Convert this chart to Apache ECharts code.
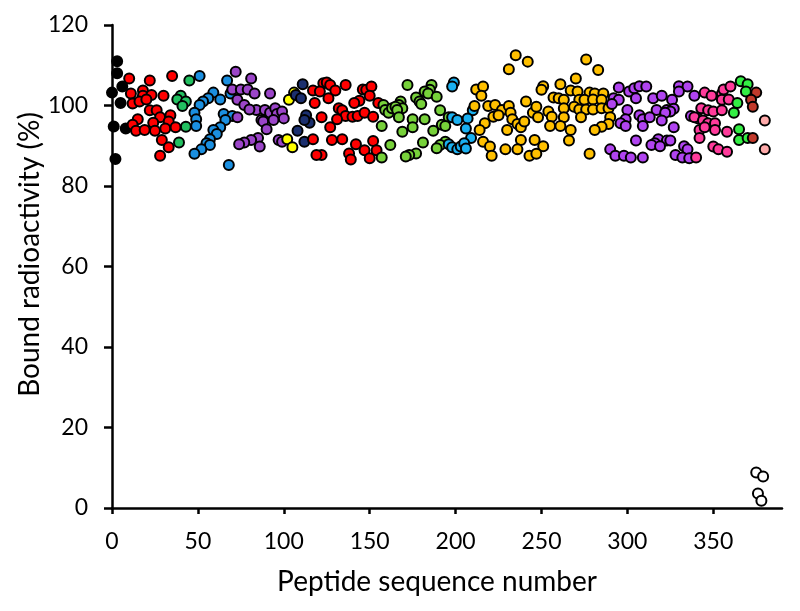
<!DOCTYPE html>
<html>
<head>
<meta charset="utf-8">
<script src="https://cdn.jsdelivr.net/npm/echarts@6/dist/echarts.min.js"></script>
<style>
  html, body { margin: 0; background: #fff; }
  #chart { width: 800px; height: 611px; }
</style>
</head>
<body>
<div id="chart"></div>
<script>
const xTicks = [0, 50, 100, 150, 200, 250, 300, 350]
const yTicks = [0, 20, 40, 60, 80, 100, 120]

// [peptide sequence number, bound radioactivity %]
const black = [[0, 103.2], [1, 94.8], [2, 86.7], [3, 111], [3, 108], [5, 100.6], [6, 104.7], [8, 94.3]]
const red1 = [[10, 106.7], [22, 106.2], [35, 107.3], [11, 103], [18, 103.7], [18, 102.4], [23, 102.6], [30, 102.4],
  [12, 100.5], [16, 101], [20, 101.5], [22, 98.8], [26, 98.8], [28, 97.1], [34, 97.6], [15, 96.6], [12, 95.2],
  [24, 95.7], [33, 96], [14, 93.7], [19, 93.9], [25, 93.7], [31, 94.3], [37, 94.6], [29, 91.4], [33, 89.6], [28, 87.5]]
const green1 = [[45, 106.2], [40, 102.4], [38, 101.5], [43, 101], [41, 99.9], [43, 94.7], [39, 90.8]]
const blue1 = [[51, 107.3], [67, 106.2], [59, 103.2], [56, 101.8], [53, 101], [63, 101.5], [51, 100.1], [69, 103],
  [48, 98.2], [65, 97.9], [70, 97.4], [49, 96.6], [66, 96.4], [49, 94.9], [63, 94.6], [59, 93.9], [61, 92.9],
  [57, 91.6], [55, 90.6], [57, 90.2], [52, 89.1], [48, 88], [68, 85.2]]
const purple1 = [[72, 108.4], [81, 106.7], [70, 104], [75, 104], [79, 104], [83, 103], [92, 103], [73, 101.4],
  [77, 100.1], [84, 98.9], [80, 99], [89, 98.9], [92, 98.2], [95, 99.3], [96, 97.9], [99, 98.5], [100, 96.8],
  [73, 97.1], [87, 96.4], [88, 96], [94, 96.4], [90, 94.1], [85, 91.9], [81, 91.4], [77, 90.8], [74, 90.4],
  [86, 89.8], [97, 91.4], [99, 91]]
const yellow = [[106, 103.2], [103, 101.4], [102, 91.6], [105, 89.6]]
const navy = [[111, 105.3], [107, 102.6], [110, 101.8], [113, 97.6], [115, 95.7], [112, 96.4], [108, 93.7], [112, 91]]
const red2 = [[123, 105.5], [125, 105.7], [127, 105.1], [117, 103.7], [121, 103.5], [130, 103.7], [126, 101.8],
  [136, 105.1], [118, 100.6], [146, 104], [148, 103.9], [151, 104.7], [144, 101.2], [141, 100.6], [150, 102.4],
  [132, 99.3], [134, 98.8], [136, 97.4], [140, 97.2], [143, 97.4], [147, 98.2], [152, 97.2], [122, 97.1],
  [131, 96.6], [127, 94.6], [117, 91.6], [128, 91.4], [134, 91.6], [142, 90.4], [122, 87.7], [119, 87.7],
  [138, 88.1], [139, 86.6], [147, 88.9], [150, 86.9], [152, 91.2], [155, 100.6], [154, 88.9]]
const lightGreen = [[172, 105.1], [186, 105.1], [185, 103.9], [182, 103.5], [184, 103], [189, 102.2], [177, 102],
  [179, 101], [180, 100.4], [168, 101], [167, 100.1], [169, 99.3], [158, 100.1], [159, 98.9], [161, 98.2],
  [163, 99.3], [165, 99.7], [166, 98.9], [167, 97.1], [175, 96.6], [182, 96.6], [191, 98.8], [196, 97.1],
  [192, 95.2], [194, 94.9], [157, 94.9], [175, 94.6], [169, 93.5], [187, 93.7], [162, 90.2], [181, 90.8],
  [194, 91], [191, 90.2], [189, 89.4], [177, 88.1], [173, 87.7], [171, 87.3], [157, 87.1]]
const skyBlue = [[199, 105.7], [198, 104.7], [198, 97.1], [201, 96.4], [196, 90.4], [198, 89.6], [201, 89.1],
  [203, 89.8], [210, 98.8], [207, 96.8], [206, 94.3], [209, 91.9], [205, 90.6], [206, 89.3]]
const orange = [[235, 112.5], [242, 110.9], [231, 109], [212, 104], [216, 104.7], [215, 102.4], [251, 104.8],
  [250, 103.9], [241, 101], [211, 99.9], [219, 99.9], [223, 100.1], [227, 98.9], [231, 99.9], [222, 97.2],
  [225, 97.6], [232, 98.2], [233, 96.6], [236, 95.4], [238, 94.6], [240, 96], [245, 98.2], [247, 99.7],
  [248, 97.1], [254, 98.5], [256, 97.2], [255, 94.9], [217, 95.6], [214, 93.9], [230, 93.9], [216, 91],
  [220, 89.8], [238, 91.4], [236, 89.1], [246, 91.4], [251, 89.9], [229, 89.1], [221, 87.5], [243, 87.5],
  [247, 88], [276, 111.4], [283, 108.8], [270, 106.7], [261, 105.3], [267, 103.7], [271, 103.5], [278, 103.2],
  [281, 103], [286, 103], [257, 102], [260, 101.8], [263, 101.4], [272, 101.4], [275, 101.4], [280, 101.5],
  [285, 101.4], [263, 99.3], [269, 99.7], [272, 99], [276, 99], [280, 99], [285, 99.3], [289, 99.3],
  [263, 97.1], [273, 97.1], [290, 97.1], [261, 94.9], [289, 95.4], [285, 94.7], [281, 93.9], [267, 93.9],
  [266, 91.3], [278, 88]]
const violet = [[295, 104.5], [301, 103.5], [304, 104.3], [307, 104.8], [292, 101.8], [295, 101.4], [305, 101.8],
  [291, 100.4], [300, 98.9], [307, 97.6], [309, 96.6], [299, 96.6], [296, 95.6], [299, 94.9], [309, 94.9],
  [305, 91.3], [290, 89.1], [293, 87.5], [298, 87.5], [302, 87.1], [309, 87.1], [311, 104.7], [330, 104.8],
  [335, 104.7], [330, 103.5], [315, 101.8], [320, 102.4], [326, 101.4], [339, 102.4], [317, 98.9], [323, 98.9],
  [327, 99.2], [325, 98.5], [322, 98.2], [313, 97.1], [337, 97.4], [341, 96.8], [320, 96.3], [327, 94.6],
  [318, 91.6], [323, 91.3], [325, 91.3], [316, 90.6], [314, 90.2], [319, 89.9], [333, 89.9], [335, 89.1],
  [328, 87.7], [332, 87.1], [336, 86.9]]
const pink = [[345, 103.2], [349, 102.4], [355, 102.9], [356, 104], [360, 104.7], [355, 101.4], [359, 101.5],
  [343, 99.3], [347, 98.8], [350, 98.5], [355, 98.8], [339, 97.1], [344, 96.3], [347, 95.6], [351, 95.6],
  [342, 93.9], [345, 94.6], [351, 93.9], [358, 93.5], [342, 91.9], [350, 89.8], [353, 89.1], [358, 88.5], [340, 87.1]]
const brightGreen = [[366, 106], [370, 105.3], [369, 103.5], [364, 100.6], [362, 98.2], [365, 94.1], [365, 91.4], [370, 91.9]]
const brown = [[375, 103.2], [372, 101.4], [373, 99.7], [373, 91.9]]
const salmon = [[380, 96.3], [380, 89.1]]
const hollow = [[375, 8.8], [379, 7.8], [376, 3.6], [378, 1.8]]

const groups = [
  [black, '#000000'], [red1, '#ff0000'], [green1, '#22c060'], [blue1, '#1b8fe0'], [purple1, '#9b45c8'],
  [yellow, '#ffff00'], [navy, '#1b2f6e'], [red2, '#ff0000'], [lightGreen, '#77d13a'], [skyBlue, '#1ab0f0'],
  [orange, '#ffc000'], [violet, '#b044f0'], [pink, '#ff3b9b'], [brightGreen, '#33ee44'], [brown, '#c0392b'],
  [salmon, '#ffaaaa'], [hollow, '#ffffff']
]

const font = 'Lato, "Open Sans", sans-serif'
const chart = echarts.init(document.getElementById('chart'))
chart.setOption({
  animation: false,
  grid: { left: 112, right: 18, top: 25, bottom: 103 },
  xAxis: {
    type: 'value',
    min: 0,
    max: 390,
    interval: 50,
    name: 'Peptide sequence number',
    nameLocation: 'middle',
    nameGap: 60,
    nameTextStyle: { fontSize: 28, color: '#000', fontFamily: font, padding: [0, 20, 0, 0] },
    axisLine: { lineStyle: { color: '#000', width: 2.5 } },
    axisTick: { show: true, length: 6, customValues: xTicks, lineStyle: { color: '#000', width: 2.5 } },
    axisLabel: { customValues: xTicks, margin: 22, fontSize: 23, color: '#000', fontFamily: font },
    splitLine: { show: false }
  },
  yAxis: {
    type: 'value',
    min: 0,
    max: 120,
    interval: 20,
    name: 'Bound radioactivity (%)',
    nameLocation: 'middle',
    nameGap: 68,
    nameMoveOverlap: false,
    nameTextStyle: { fontSize: 28, color: '#000', fontFamily: font, padding: [0, 0, 0, 24] },
    axisLine: { show: true, lineStyle: { color: '#000', width: 2.5 } },
    axisTick: { show: true, length: 8, customValues: yTicks, lineStyle: { color: '#000', width: 2.5 } },
    axisLabel: { customValues: yTicks, margin: 24, fontSize: 23, color: '#000', fontFamily: font },
    splitLine: { show: false }
  },
  series: groups.map(([data, color]) => ({
    type: 'scatter',
    data,
    symbolSize: 10,
    itemStyle: { color, opacity: 1, borderColor: '#000', borderWidth: 2 }
  }))
})
</script>
</body>
</html>
